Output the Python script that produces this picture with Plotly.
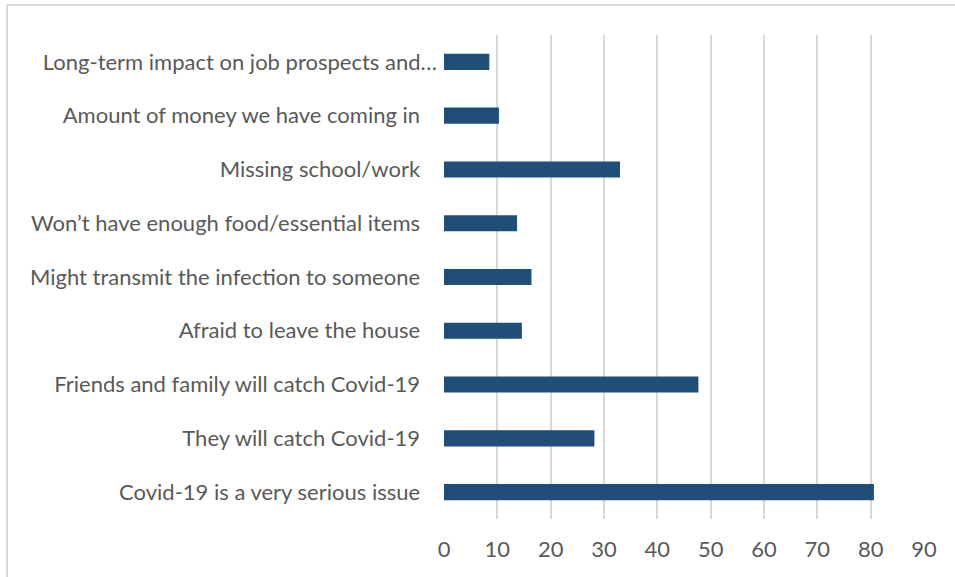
import plotly.graph_objects as go

# Survey concerns, listed bottom-to-top as they appear on the chart
categories = [
    "Covid-19 is a very serious issue",
    "They will catch Covid-19",
    "Friends and family will catch Covid-19",
    "Afraid to leave the house",
    "Might transmit the infection to someone",
    "Won’t have enough food/essential items",
    "Missing school/work",
    "Amount of money we have coming in",
    "Long-term impact on job prospects and…",
]
values = [80.6, 28.2, 47.7, 14.6, 16.4, 13.7, 33.0, 10.3, 8.5]
x_ticks = [0, 10, 20, 30, 40, 50, 60, 70, 80, 90]

FONT = "Lato"
TEXT = "#595959"
BAR = "#1f4e79"
GRID = "#d9d9d9"

W, H = 955, 577
ML, MR, MT, MB = 444, 31, 35, 58
PW, PH = W - ML - MR, H - MT - MB

# truncated label sits slightly further right than the others
ticktext = [c if c.endswith("…") else c + "\u00a0\u00a0\u00a0" for c in categories]

fig = go.Figure(
    go.Bar(
        x=values,
        y=categories,
        orientation="h",
        width=0.3,
        marker=dict(color=BAR, line=dict(width=0)),
        hoverinfo="x+y",
    )
)

frame_x = (7 - ML) / PW
frame_y = 1 + (MT - 5) / PH

fig.update_layout(
    width=W,
    height=H,
    margin=dict(l=ML, r=MR, t=MT, b=MB, autoexpand=False),
    paper_bgcolor="white",
    plot_bgcolor="white",
    font=dict(family=FONT, size=22, color=TEXT),
    showlegend=False,
    shapes=[
        # chart frame (top and left edges)
        dict(type="line", xref="paper", yref="paper",
             x0=frame_x, x1=1.2, y0=frame_y, y1=frame_y,
             line=dict(color=GRID, width=2)),
        dict(type="line", xref="paper", yref="paper",
             x0=frame_x, x1=frame_x, y0=-0.2, y1=frame_y,
             line=dict(color=GRID, width=2)),
    ],
)

fig.update_xaxes(
    range=[0, 90],
    tickvals=x_ticks,
    showgrid=True,
    gridcolor=GRID,
    gridwidth=1.5,
    zeroline=False,
    showline=False,
    ticks="",
    ticklabelstandoff=15,
    tickfont=dict(family=FONT, size=22, color=TEXT),
    automargin=False,
    fixedrange=True,
)

fig.update_yaxes(
    type="category",
    categoryorder="array",
    categoryarray=categories,
    tickvals=categories,
    ticktext=ticktext,
    showgrid=False,
    zeroline=False,
    showline=False,
    ticks="",
    ticklabelstandoff=6,
    tickfont=dict(family=FONT, size=22, color=TEXT),
    automargin=False,
    fixedrange=True,
)

fig.write_html("out.html")
